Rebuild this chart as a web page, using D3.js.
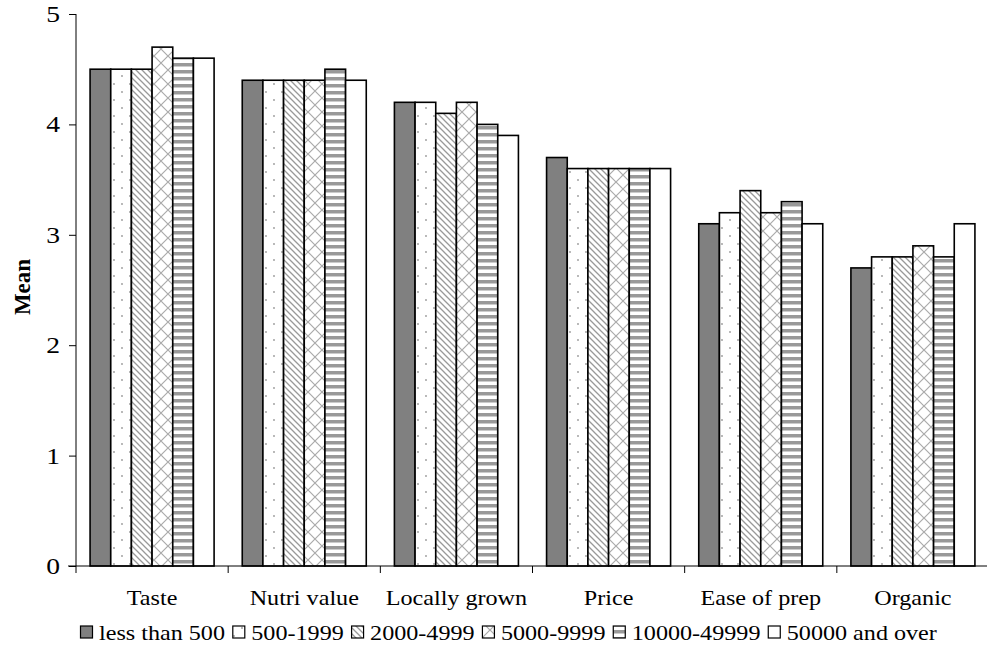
<!DOCTYPE html>
<html><head><meta charset="utf-8">
<script src="https://cdn.jsdelivr.net/npm/d3@7"></script>
<style>body{margin:0;background:#fff}svg{display:block}text{font-family:"Liberation Serif","Times New Roman",serif}</style>
</head><body>
<script>
const categories = ["Taste","Nutri value","Locally grown","Price","Ease of prep","Organic"];
const seriesNames = ["less than 500","500-1999","2000-4999","5000-9999","10000-49999","50000 and over"];
const s0 = [4.5,4.4,4.2,3.7,3.1,2.7];
const s1 = [4.5,4.4,4.2,3.6,3.2,2.8];
const s2 = [4.5,4.4,4.1,3.6,3.4,2.8];
const s3 = [4.7,4.4,4.2,3.6,3.2,2.9];
const s4 = [4.6,4.5,4.0,3.6,3.3,2.8];
const s5 = [4.6,4.4,3.9,3.6,3.1,3.1];
const series = [s0,s1,s2,s3,s4,s5];
const yTicks = [0,1,2,3,4,5];

const W=987,H=657, SX=1.15;
const svg=d3.select("body").append("svg").attr("width",W).attr("height",H);
const defs=svg.append("defs");
const fills=["#808080","url(#pDots)","url(#pDiag)","url(#pCross)","url(#pHoriz)","#ffffff"];
let p=defs.append("pattern").attr("id","pDots").attr("patternUnits","userSpaceOnUse").attr("width",16).attr("height",16);
p.append("rect").attr("width",16).attr("height",16).attr("fill","#fff");
p.append("circle").attr("cx",2).attr("cy",4).attr("r",0.9).attr("fill","#999");
p.append("circle").attr("cx",10).attr("cy",12).attr("r",0.9).attr("fill","#999");
p=defs.append("pattern").attr("id","pDiag").attr("patternUnits","userSpaceOnUse").attr("width",6).attr("height",6);
p.append("rect").attr("width",6).attr("height",6).attr("fill","#fff");
p.append("path").attr("d","M-1,-1L7,7M-4,2L2,8M4,-2L8,2").attr("stroke","#999").attr("stroke-width",1.3);
p=defs.append("pattern").attr("id","pCross").attr("patternUnits","userSpaceOnUse").attr("width",14).attr("height",14);
p.append("rect").attr("width",14).attr("height",14).attr("fill","#fff");
p.append("path").attr("d","M0,0L14,14M14,0L0,14").attr("stroke","#aaa").attr("stroke-width",1.2);
p=defs.append("pattern").attr("id","pHoriz").attr("patternUnits","userSpaceOnUse").attr("width",8).attr("height",7);
p.append("rect").attr("width",8).attr("height",7).attr("fill","#fff");
p.append("rect").attr("y",0).attr("width",8).attr("height",3.5).attr("fill","#999");

const x0=d3.scaleBand().domain(categories).range([76,989]).paddingInner(0.185).paddingOuter(0.0925);
const xOuter=d3.scaleBand().domain(categories).range([76,989]);
const x1=d3.scaleBand().domain(d3.range(6)).range([0,x0.bandwidth()]);
const y=d3.scaleLinear().domain([0,5]).range([566,14]);

categories.forEach((c,ci)=>{
  svg.append("g").selectAll("rect").data(series.map((s,si)=>({si,v:s[ci]}))).join("rect")
   .attr("x",d=>x0(c)+x1(d.si)).attr("y",d=>y(d.v)).attr("width",x1.bandwidth()).attr("height",d=>y(0)-y(d.v))
   .attr("fill",d=>fills[d.si]).attr("stroke","#000").attr("stroke-width",1.6);
});

// y axis
const ya=svg.append("g").attr("transform","translate(76,0)").call(d3.axisLeft(y).tickValues(yTicks).tickSize(7).tickFormat(""));
ya.select(".domain").attr("d","M0,"+y(5)+"V"+y(0));
svg.append("g").selectAll("text").data(yTicks).join("text")
  .attr("transform",d=>`translate(60,${y(d)+8}) scale(1.2,1)`).attr("text-anchor","end").attr("font-size",23).text(d=>d);
// x axis
svg.append("line").attr("x1",68).attr("x2",989).attr("y1",y(0)).attr("y2",y(0)).attr("stroke","#000");
const bounds=categories.map(c=>xOuter(c));
svg.append("g").selectAll("line").data(bounds).join("line").attr("x1",d=>d).attr("x2",d=>d).attr("y1",y(0)).attr("y2",y(0)+7).attr("stroke","#000");
svg.append("g").selectAll("text").data(categories).join("text")
  .attr("transform",c=>`translate(${xOuter(c)+xOuter.bandwidth()/2},605) scale(${SX},1)`)
  .attr("text-anchor","middle").attr("font-size",21).text(c=>c);
svg.append("text").attr("transform","translate(30,287) rotate(-90)").attr("text-anchor","middle").attr("font-size",23).attr("font-weight","bold").text("Mean");

// legend: spans 80..937
const lg=svg.append("g");
const items=seriesNames.map((n,i)=>{
  const r=lg.append("rect").attr("y",626).attr("width",12).attr("height",12).attr("fill",fills[i]).attr("stroke","#000").attr("stroke-width",1.2);
  const t=lg.append("text").attr("font-size",21).text(n);
  return {r,t,w:t.node().getComputedTextLength()*SX};
});
const total=items.reduce((a,d)=>a+19+d.w,0);
const gap=(937-80-total)/(items.length-1);
let lx=80;
items.forEach(d=>{
  d.r.attr("x",lx+0.5);
  d.t.attr("transform",`translate(${lx+19},640) scale(${SX},1)`);
  lx+=19+d.w+gap;
});
</script>
</body></html>
